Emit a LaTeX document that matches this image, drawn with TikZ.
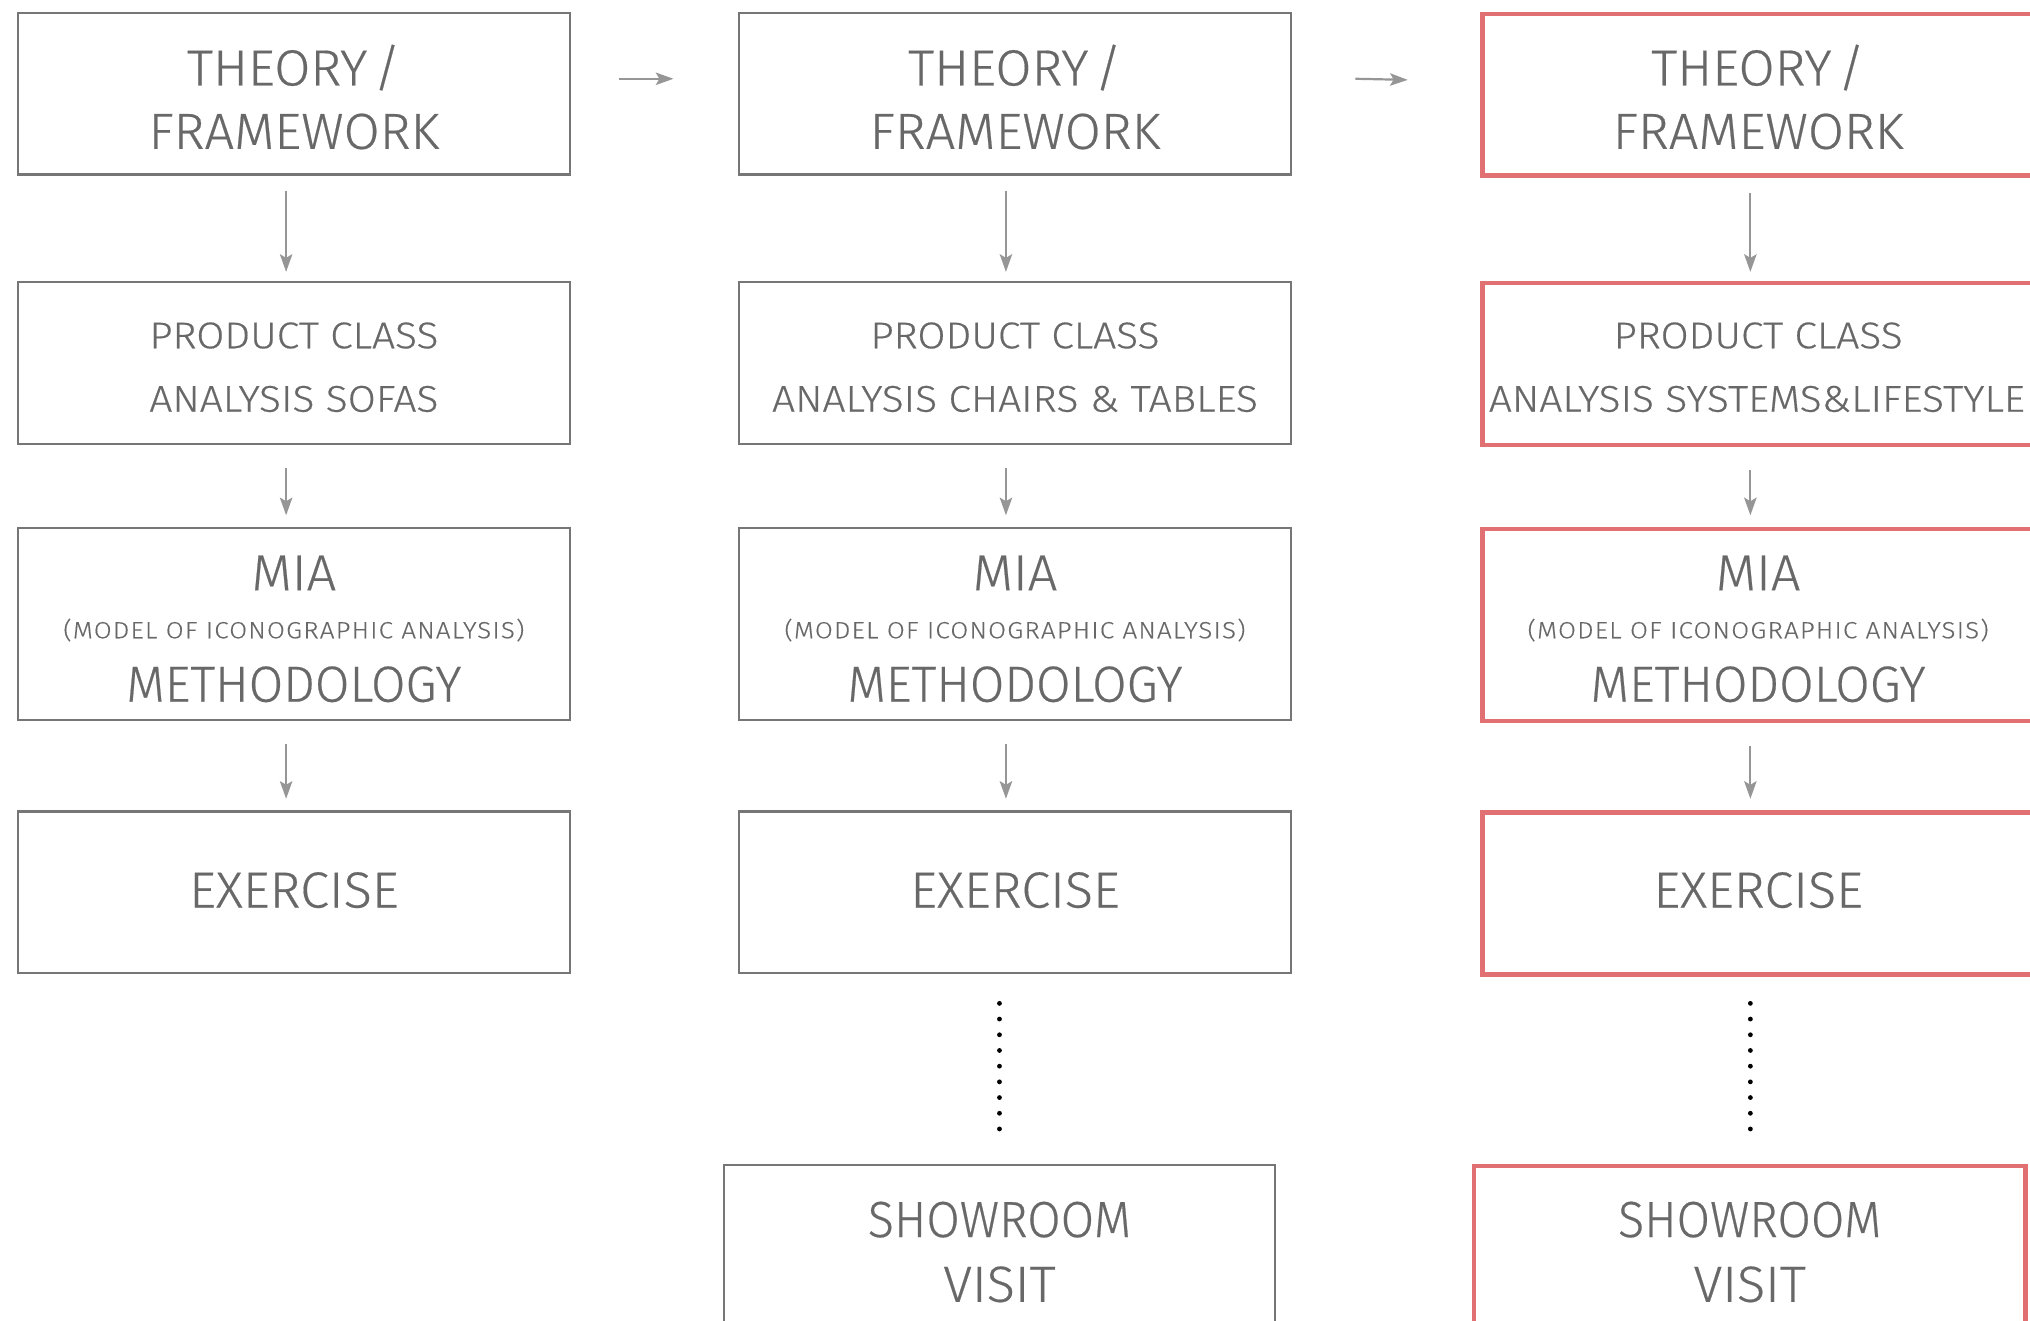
\documentclass[tikz,border=0pt]{standalone}
\usepackage{fontspec}
\setmainfont{Fira Sans Light}[FakeStretch=1.03,FakeBold=0.4]
\newfontfamily\firawide{Fira Sans Light}[FakeStretch=1.095,FakeBold=0.4]
\newfontfamily\firamodel{Fira Sans Light}[FakeStretch=1.11,LetterSpace=5,FakeBold=0.3]
\newfontfamily\firanarrow{Fira Sans Light}[FakeStretch=0.985,FakeBold=0.4]
\newfontfamily\firanarrower{Fira Sans Light}[FakeStretch=0.953,FakeBold=0.4]
\usetikzlibrary{arrows.meta,calc}
\definecolor{txtgray}{RGB}{104,104,104}
\definecolor{boxgray}{RGB}{118,118,118}
\definecolor{arrgray}{RGB}{150,150,150}
\definecolor{redline}{RGB}{224,112,114}
\newcommand{\bigf}{\fontsize{25.4pt}{30pt}\selectfont}
\newcommand{\bignf}{\firanarrow\fontsize{25.4pt}{30pt}\selectfont}
\newcommand{\bignnf}{\firanarrower\fontsize{25.4pt}{30pt}\selectfont}
\newcommand{\midf}{\firawide\fontsize{18.6pt}{22pt}\selectfont}
\newcommand{\smallf}{\firamodel\fontsize{11.7pt}{14pt}\selectfont}
\begin{document}
\begin{tikzpicture}[x=0.6473pt,y=-0.6473pt,
  box/.style={draw=boxgray, line width=1.1pt, minimum width=426*0.6473pt, minimum height=125*0.6473pt, inner sep=0pt, anchor=north},
  tallbox/.style={box, minimum height=148*0.6473pt},
  redbox/.style={box, draw=redline, line width=2.2pt},
  redtall/.style={redbox, minimum height=148*0.6473pt},
  txt/.style={anchor=base, inner sep=0pt, text=txtgray},
  varr/.style={draw=arrgray, line width=1.1pt, -{Stealth[length=8.8pt,width=6.2pt,inset=1.8pt]}},
  dotline/.style={draw=black, line width=2.4pt, line cap=round, dash pattern=on 0pt off 7.85pt}]
\useasboundingbox (0,0) rectangle (1568,1020);
\clip (0,0) rectangle (1568,1020);
% ---------- column 1 ----------
\node[box] (a1) at (227,9) {};
\node[box] (a2) at (227,217) {};
\node[tallbox] (a3) at (227,407) {};
\node[box] (a4) at (227,626) {};
\node[txt,font=\bigf] (a1t1) at (227,66) {THEORY\hspace{0.12em}/};
\node[txt,font=\bigf] (a1t2) at (227,115) {FRAMEWORK};
\node[txt,font=\midf] (a2t1) at (227,269) {PRODUCT CLASS};
\node[txt,font=\midf] (a2t2) at (227,318) {ANALYSIS SOFAS};
\node[txt,font=\bigf] (a3t1) at (227,456) {MIA};
\node[txt,font=\smallf] (a3t2) at (227,493) {(MODEL OF ICONOGRAPHIC ANALYSIS)};
\node[txt,font=\bignf] (a3t3) at (227,542) {METHODOLOGY};
\node[txt,font=\bigf] (a4t1) at (227,701) {EXERCISE};
% ---------- column 2 ----------
\node[box] (b1) at (784,9) {};
\node[box] (b2) at (784,217) {};
\node[tallbox] (b3) at (784,407) {};
\node[box] (b4) at (784,626) {};
\node[box] (b5) at (772,899) {};
\node[txt,font=\bigf] (b1t1) at (784,66) {THEORY\hspace{0.12em}/};
\node[txt,font=\bigf] (b1t2) at (784,115) {FRAMEWORK};
\node[txt,font=\midf] (b2t1) at (784,269) {PRODUCT CLASS};
\node[txt,font=\midf] (b2t2) at (784,318) {ANALYSIS CHAIRS \& TABLES};
\node[txt,font=\bigf] (b3t1) at (784,456) {MIA};
\node[txt,font=\smallf] (b3t2) at (784,493) {(MODEL OF ICONOGRAPHIC ANALYSIS)};
\node[txt,font=\bignf] (b3t3) at (784,542) {METHODOLOGY};
\node[txt,font=\bigf] (b4t1) at (784,701) {EXERCISE};
\node[txt,font=\bignnf] (b5t1) at (772,955.5) {SHOWROOM};
\node[txt,font=\bigf] (b5t2) at (772,1005.5) {VISIT};
% ---------- column 3 ----------
\node[redbox] (c1) at (1358,9) {};
\node[redbox] (c2) at (1358,217) {};
\node[redtall] (c3) at (1358,407) {};
\node[redbox] (c4) at (1358,626) {};
\node[redbox] (c5) at (1351.5,899) {};
\node[txt,font=\bigf] (c1t1) at (1358,66) {THEORY\hspace{0.12em}/};
\node[txt,font=\bigf] (c1t2) at (1358,115) {FRAMEWORK};
\node[txt,font=\midf] (c2t1) at (1358,269) {PRODUCT CLASS};
\node[txt,font=\midf] (c2t2) at (1357,318) {ANALYSIS SYSTEMS\&LIFESTYLE};
\node[txt,font=\bigf] (c3t1) at (1358,456) {MIA};
\node[txt,font=\smallf] (c3t2) at (1358,493) {(MODEL OF ICONOGRAPHIC ANALYSIS)};
\node[txt,font=\bignf] (c3t3) at (1358,542) {METHODOLOGY};
\node[txt,font=\bigf] (c4t1) at (1358,701) {EXERCISE};
\node[txt,font=\bignnf] (c5t1) at (1351.5,955.5) {SHOWROOM};
\node[txt,font=\bigf] (c5t2) at (1351.5,1005.5) {VISIT};
% ---------- vertical arrows ----------
\draw[varr] ($(a1.south)+(-6,12)$) -- ($(a2.north)+(-6,-7)$);
\draw[varr] ($(a2.south)+(-6,18)$) -- ($(a3.north)+(-6,-9)$);
\draw[varr] ($(a3.south)+(-6,18)$) -- ($(a4.north)+(-6,-9)$);
\draw[varr] ($(b1.south)+(-7,12)$) -- ($(b2.north)+(-7,-7)$);
\draw[varr] ($(b2.south)+(-7,18)$) -- ($(b3.north)+(-7,-9)$);
\draw[varr] ($(b3.south)+(-7,18)$) -- ($(b4.north)+(-7,-9)$);
\draw[varr] ($(c1.south)+(-6,12)$) -- ($(c2.north)+(-6,-7)$);
\draw[varr] ($(c2.south)+(-6,18)$) -- ($(c3.north)+(-6,-9)$);
\draw[varr] ($(c3.south)+(-6,18)$) -- ($(c4.north)+(-6,-9)$);
% ---------- horizontal arrows ----------
\draw[varr] ($(a1.east)+(37,-11.5)$) -- ($(b1.west)+(-50,-11.5)$);
\draw[varr] ($(b1.east)+(49,-11.5)$) -- ($(c1.west)+(-56,-11.5)$);
% ---------- dotted continuations ----------
\draw[dotline] ($(b5.north)+(0,-124)$) -- ($(b5.north)+(0,-26.8)$);
\draw[dotline] ($(c5.north)+(0.5,-124)$) -- ($(c5.north)+(0.5,-26.8)$);
\end{tikzpicture}
\end{document}
